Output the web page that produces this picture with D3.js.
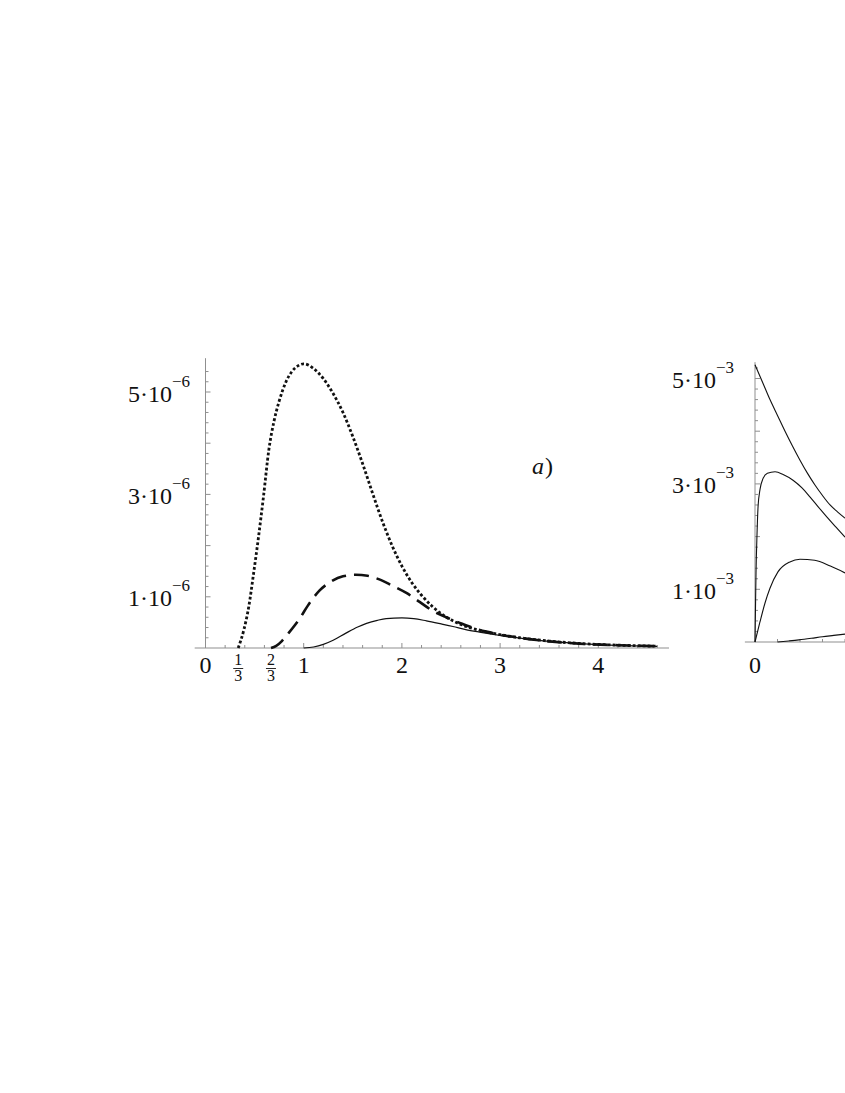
<!DOCTYPE html>
<html>
<head>
<meta charset="utf-8">
<script src="https://cdn.jsdelivr.net/npm/d3@7"></script>
<style>
  html, body { margin: 0; padding: 0; background: #fff; }
  svg { display: block; }
  text { font-family: "Liberation Serif", "DejaVu Serif", serif; fill: #111; }
</style>
</head>
<body>
<svg id="chart" width="845" height="1093"></svg>
<script>
// ---------- Panel a) data (x, y in units of 1e-6) ----------
const dottedX = [0.333,0.39,0.44,0.49,0.54,0.59,0.645,0.70,0.75,0.82,0.88,0.95,1.0,1.1,1.2,1.3,1.4,1.5,1.6,1.7,1.8,1.9,2.0,2.1,2.2,2.3,2.4,2.5,2.6,2.8,3.0,3.2,3.5,3.8,4.2,4.6];
const dottedY = [0,0.35,0.8,1.46,2.17,2.95,3.87,4.45,4.82,5.2,5.4,5.52,5.55,5.46,5.26,4.97,4.6,4.13,3.6,3.03,2.48,2.0,1.6,1.28,1.03,0.83,0.67,0.55,0.46,0.34,0.26,0.2,0.135,0.09,0.055,0.035];

const dashedX = [0.667,0.72,0.78,0.85,0.95,1.05,1.16,1.28,1.4,1.53,1.65,1.77,1.9,2.05,2.18,2.31,2.45,2.59,2.73,2.86,3.0,3.2,3.5,3.8,4.2,4.6];
const dashedY = [0,0.04,0.14,0.3,0.55,0.85,1.12,1.3,1.4,1.43,1.41,1.34,1.22,1.07,0.9,0.73,0.6,0.49,0.39,0.32,0.26,0.2,0.13,0.085,0.055,0.035];

const solidX = [1.0,1.1,1.2,1.3,1.43,1.55,1.64,1.75,1.84,2.0,2.12,2.25,2.4,2.52,2.65,2.79,2.93,3.07,3.3,3.6,3.9,4.2,4.6];
const solidY = [0,0.02,0.07,0.15,0.29,0.41,0.48,0.54,0.575,0.59,0.575,0.53,0.47,0.42,0.36,0.31,0.265,0.225,0.17,0.115,0.075,0.05,0.03];

const leftXTicks = [0,1,2,3,4];
const leftXFracTicks = [[1,3],[2,3]];
const leftYLabelTicks = [1,3,5];
const leftYExp = "6";

// ---------- Panel b) data (x arbitrary, y in units of 1e-3) ----------
const curveAX = [0,0.067,0.133,0.2,0.267,0.333,0.4,0.467,0.533,0.6,0.667,0.733,0.8];
const curveAY = [5.26,4.93,4.6,4.3,4.0,3.72,3.45,3.2,2.98,2.78,2.6,2.47,2.35];

const curveBX = [0,0.004,0.009,0.018,0.027,0.045,0.071,0.11,0.178,0.25,0.338,0.42,0.49,0.56,0.64,0.72,0.8];
const curveBY = [0,0.6,1.31,2.05,2.56,2.9,3.1,3.2,3.23,3.18,3.07,2.92,2.75,2.57,2.37,2.18,1.99];

const curveCX = [0,0.044,0.089,0.133,0.204,0.31,0.4,0.53,0.67,0.8];
const curveCY = [0,0.38,0.74,1.02,1.33,1.52,1.57,1.55,1.44,1.31];

const curveDX = [0.2,0.3,0.39,0.5,0.6,0.7,0.8];
const curveDY = [0,0.02,0.04,0.07,0.1,0.125,0.15];

const rightXLabelTicks = [0];
const rightYLabelTicks = [1,3,5];
const rightYExp = "3";

const panelLabel = "a";

// ---------- drawing ----------
const svg = d3.select("#chart");
const axisColor = "#8f8f8f";
const ink = "#111";

function zip(xs, ys) { return xs.map((x, i) => [x, ys[i]]); }

// ----- Left panel scales -----
const xL = d3.scaleLinear().domain([0, 4]).range([205.5, 598.3]);
const yL = d3.scaleLinear().domain([0, 5]).range([648, 392]);

const gL = svg.append("g");
gL.append("line").attr("x1", xL(-0.11)).attr("x2", xL(4.72)).attr("y1", yL(0)).attr("y2", yL(0))
  .attr("stroke", axisColor).attr("stroke-width", 1);
gL.append("line").attr("x1", xL(0)).attr("x2", xL(0)).attr("y1", yL(0)).attr("y2", yL(5.66))
  .attr("stroke", axisColor).attr("stroke-width", 1);

const xMinorL = d3.range(1, 24).map(i => i * 0.2).filter(v => v <= 4.7);
gL.selectAll(".xt").data(xMinorL).join("line")
  .attr("x1", d => xL(d)).attr("x2", d => xL(d))
  .attr("y1", yL(0)).attr("y2", d => yL(0) - (Math.abs(d - Math.round(d)) < 1e-6 ? 5 : 3))
  .attr("stroke", axisColor).attr("stroke-width", 1);
const yMinorL = d3.range(1, 29).map(i => i * 0.2).filter(v => v <= 5.6);
gL.selectAll(".yt").data(yMinorL).join("line")
  .attr("x1", xL(0)).attr("x2", d => xL(0) + (Math.abs(d - Math.round(d)) < 1e-6 ? 5 : 3))
  .attr("y1", d => yL(d)).attr("y2", d => yL(d))
  .attr("stroke", axisColor).attr("stroke-width", 1);

gL.selectAll(".xl").data(leftXTicks).join("text")
  .attr("x", d => xL(d)).attr("y", 673)
  .attr("text-anchor", "middle").attr("font-size", 24)
  .text(d => d);
leftXFracTicks.forEach(([n, m]) => {
  const cx = xL(n / m);
  gL.append("text").attr("x", cx).attr("y", 665).attr("text-anchor", "middle")
    .attr("font-size", 16).text(n);
  gL.append("line").attr("x1", cx - 5).attr("x2", cx + 5).attr("y1", 668.5).attr("y2", 668.5)
    .attr("stroke", ink).attr("stroke-width", 0.9);
  gL.append("text").attr("x", cx).attr("y", 681).attr("text-anchor", "middle")
    .attr("font-size", 16).text(m);
});
function yLabel(g, x, y, v, exp) {
  const t = g.append("text").attr("x", x).attr("y", y + 9.5)
    .attr("text-anchor", "end").attr("font-size", 24);
  t.append("tspan").text(v + "\u00B710");
  t.append("tspan").attr("dx", 0).attr("dy", -15).attr("font-size", 17).text("\u2212" + exp);
}
leftYLabelTicks.forEach(v => yLabel(gL, 190, yL(v), v, leftYExp));

const lineL = d3.line().x(d => xL(d[0])).y(d => yL(d[1])).curve(d3.curveMonotoneX);
gL.append("path").attr("d", lineL(zip(solidX, solidY)))
  .attr("fill", "none").attr("stroke", ink).attr("stroke-width", 1.2);
gL.append("path").attr("d", lineL(zip(dashedX, dashedY)))
  .attr("fill", "none").attr("stroke", ink).attr("stroke-width", 2.6)
  .attr("stroke-dasharray", "15,8");
gL.append("path").attr("d", lineL(zip(dottedX, dottedY)))
  .attr("fill", "none").attr("stroke", ink).attr("stroke-width", 2.8)
  .attr("stroke-dasharray", "2.8,2.2");

const pl = gL.append("text").attr("x", 532).attr("y", 474).attr("font-size", 24);
pl.append("tspan").attr("font-style", "italic").text(panelLabel);
pl.append("tspan").attr("dx", 1).text(")");

// ----- Right panel -----
const xR = d3.scaleLinear().domain([0, 0.8]).range([755, 845]);
const yR = d3.scaleLinear().domain([0, 5]).range([642, 378.5]);
const gR = svg.append("g");
gR.append("line").attr("x1", xR(-0.09)).attr("x2", xR(0.9)).attr("y1", yR(0)).attr("y2", yR(0))
  .attr("stroke", axisColor).attr("stroke-width", 1);
gR.append("line").attr("x1", xR(0)).attr("x2", xR(0)).attr("y1", yR(0)).attr("y2", yR(5.31))
  .attr("stroke", axisColor).attr("stroke-width", 1);
const xMinorR = [0.2, 0.4, 0.6, 0.8];
gR.selectAll(".xt").data(xMinorR).join("line")
  .attr("x1", d => xR(d)).attr("x2", d => xR(d))
  .attr("y1", yR(0)).attr("y2", yR(0) - 3)
  .attr("stroke", axisColor).attr("stroke-width", 1);
const yMinorR = d3.range(1, 27).map(i => i * 0.2).filter(v => v <= 5.25);
gR.selectAll(".yt").data(yMinorR).join("line")
  .attr("x1", xR(0)).attr("x2", d => xR(0) + (Math.abs(d - Math.round(d)) < 1e-6 ? 5 : 3))
  .attr("y1", d => yR(d)).attr("y2", d => yR(d))
  .attr("stroke", axisColor).attr("stroke-width", 1);
gR.selectAll(".xl").data(rightXLabelTicks).join("text")
  .attr("x", d => xR(d)).attr("y", 673)
  .attr("text-anchor", "middle").attr("font-size", 24).text(d => d);
rightYLabelTicks.forEach(v => yLabel(gR, 734, yR(v), v, rightYExp));

const lineR = d3.line().x(d => xR(d[0])).y(d => yR(d[1])).curve(d3.curveMonotoneX);
[[curveAX, curveAY], [curveBX, curveBY], [curveCX, curveCY], [curveDX, curveDY]].forEach(([xs, ys]) => {
  gR.append("path").attr("d", lineR(zip(xs, ys)))
    .attr("fill", "none").attr("stroke", ink).attr("stroke-width", 1.1);
});
</script>
</body>
</html>
